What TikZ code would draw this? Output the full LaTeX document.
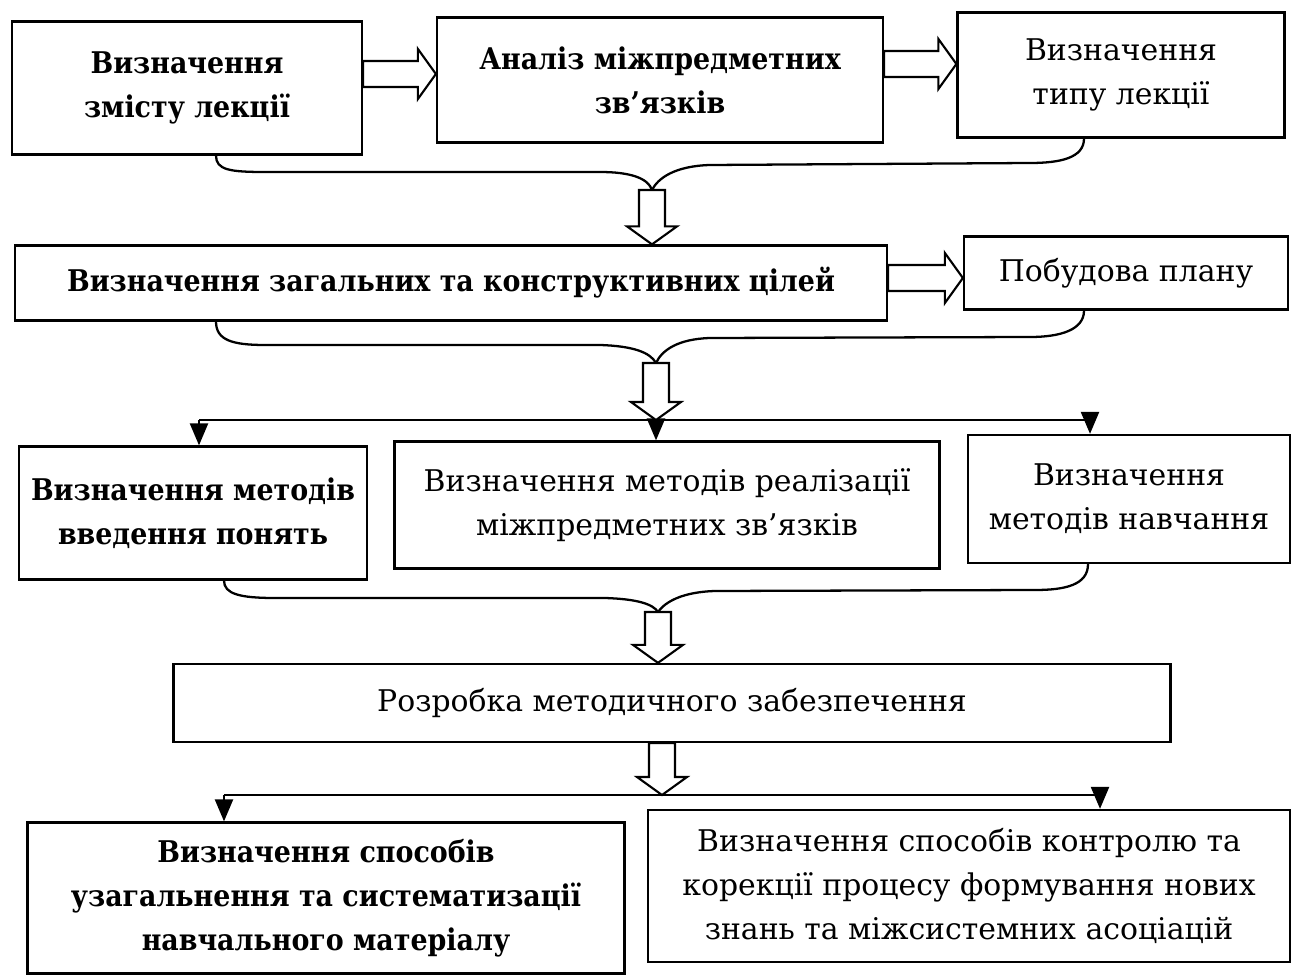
\documentclass[tikz,border=0pt]{standalone}
\usepackage{fontspec}
\setmainfont{DejaVu Serif}
\newfontfamily\heavyfont{DejaVu Serif Condensed}
\usetikzlibrary{arrows.meta,calc}
\tikzset{
  stage/.style={draw, line width=1.3pt, align=center, inner sep=0pt, font=\fontsize{17}{25}\selectfont},
  stagebold/.style={stage, font=\fontsize{17}{25}\selectfont\heavyfont\bfseries},
  hollow/.style={draw, line width=1.2pt, fill=white, line join=miter},
  brace/.style={line width=1.3pt},
  drop/.style={line width=1.3pt, -{Triangle[length=0.44cm, width=0.36cm]}},
}
% block arrow from #1 to #2
\newcommand{\blockarrow}[2]{%
  \draw[hollow] ($(#1)!0.26cm!90:(#2)$) -- ($($(#2)!0.36cm!(#1)$)!0.26cm!90:(#2)$)
    -- ($($(#2)!0.36cm!(#1)$)!0.5cm!90:(#2)$) -- (#2)
    -- ($($(#2)!0.36cm!(#1)$)!0.5cm!-90:(#2)$)
    -- ($($(#2)!0.36cm!(#1)$)!0.26cm!-90:(#2)$) -- ($(#1)!0.26cm!-90:(#2)$) -- cycle;}
\begin{document}
\begin{tikzpicture}[x=0.02cm, y=-0.02cm]
\useasboundingbox (0,0) rectangle (1298,976);
% first row
\node[stagebold, minimum width=7cm, minimum height=2.66cm] (A1) at (187,88) {Визначення\\змісту лекції};
\node[stagebold, minimum width=8.92cm, minimum height=2.5cm] (A2) at (660,80) {Аналіз міжпредметних\\зв’язків};
\node[stage, minimum width=6.54cm, minimum height=2.5cm] (A3) at (1121,75) {Визначення\\типу лекції};
\coordinate (a1) at (A1.east |- 0,74);
\coordinate (a2) at (A2.west |- 0,74);
\coordinate (a3) at (A2.east |- 0,64);
\coordinate (a4) at (A3.west |- 0,64);
\blockarrow{a1}{a2}
\blockarrow{a3}{a4}
% second row
\node[stagebold, minimum width=17.44cm, minimum height=1.5cm] (B1) at (451,283) {Визначення загальних та конструктивних цілей};
\node[stage, minimum width=6.48cm, minimum height=1.46cm] (B2) at (1126,273) {Побудова плану};
\coordinate (b1) at (B1.east |- 0,278);
\coordinate (b2) at (B2.west |- 0,278);
\blockarrow{b1}{b2}
% third row
\node[stagebold, minimum width=6.96cm, minimum height=2.66cm] (C1) at (193,513) {Визначення методів\\введення понять};
\node[stage, minimum width=10.9cm, minimum height=2.54cm] (C2) at (667,505) {Визначення методів реалізації\\міжпредметних зв’язків};
\node[stage, minimum width=6.44cm, minimum height=2.56cm] (C3) at (1129,499) {Визначення\\методів навчання};
% fourth row
\node[stage, minimum width=19.94cm, minimum height=1.56cm] (D) at (672,703) {Розробка методичного забезпечення};
% fifth row
\node[stagebold, minimum width=11.94cm, minimum height=3.02cm] (E1) at (326,898) {Визначення способів\\узагальнення та систематизації\\навчального матеріалу};
\node[stage, minimum width=12.84cm, minimum height=3.04cm] (E2) at (969,886) {Визначення способів контролю та\\корекції процесу формування нових\\знань та міжсистемних асоціацій};
% junctions
\coordinate (j1) at (652,190);
\coordinate (j2) at (656,363);
\coordinate (j3) at (658,612);
\coordinate (c1) at (199,420);
\coordinate (c2) at (656,420);
\coordinate (c3) at (1090,420);
\coordinate (e1) at (224,795);
\coordinate (e2) at (662,795);
\coordinate (e3) at (1100,795);
% braces
\draw[brace] (216,0 |- A1.south) .. controls (216,170) and (230,172) .. (265,172) -- (600,172) .. controls (630,172) and (648,178) .. (j1);
\draw[brace] (1084,0 |- A3.south) .. controls (1084,158) and (1060,163) .. (1030,163) -- (710,165) .. controls (675,166) and (658,178) .. (j1);
\draw[brace] (216,0 |- B1.south) .. controls (216,340) and (232,345) .. (265,345) -- (600,345) .. controls (632,346) and (650,352) .. (j2);
\draw[brace] (1084,0 |- B2.south) .. controls (1084,330) and (1060,337) .. (1030,337) -- (710,338) .. controls (678,339) and (662,350) .. (j2);
\draw[brace] (224,0 |- C1.south) .. controls (224,594) and (240,598) .. (275,598) -- (605,598) .. controls (637,599) and (653,604) .. (j3);
\draw[brace] (1088,0 |- C3.south) .. controls (1088,585) and (1065,590) .. (1035,590) -- (715,591) .. controls (682,592) and (665,602) .. (j3);
% forks
\draw[brace] (c1) -- (c3);
\draw[drop] (c1) -- (c1 |- C1.north);
\draw[drop] (c2) -- (c2 |- C2.north);
\draw[drop] (c3) -- (c3 |- C3.north);
\draw[brace] (e1) -- (e3);
\draw[drop] (e1) -- (e1 |- E1.north);
\draw[drop] (e3) -- (e3 |- E2.north);
% hollow arrows down
\coordinate (k1) at (j1 |- B1.north);
\coordinate (k3) at (j3 |- D.north);
\coordinate (k4) at (e2 |- D.south);
\blockarrow{j1}{k1}
\blockarrow{j2}{c2}
\blockarrow{j3}{k3}
\blockarrow{k4}{e2}
\end{tikzpicture}
\end{document}
